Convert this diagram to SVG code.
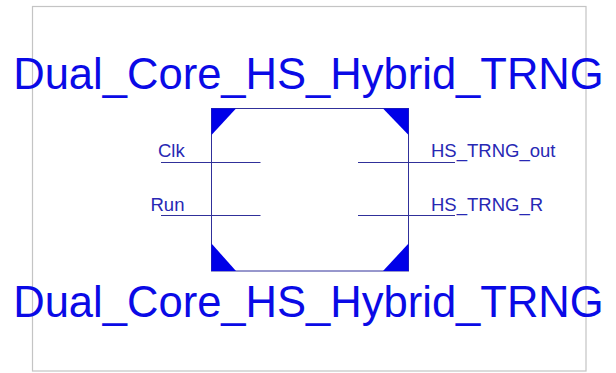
<svg xmlns="http://www.w3.org/2000/svg" width="616" height="373" viewBox="0 0 616 373">
<style>
.title{font-family:"Liberation Sans",Arial,sans-serif;font-size:45px;fill:#0a0ae6}
.pin{font-family:"Liberation Sans",Arial,sans-serif;font-size:18.5px;fill:#2828b4}
.wire{stroke:#30309a;stroke-width:1;fill:none}
.tri{fill:#0000e8}
</style>
<rect width="616" height="373" fill="#ffffff"/>
<rect x="32.5" y="6.5" width="553.5" height="364.5" fill="none" stroke="#c4c4c4" stroke-width="1.2"/>
<g id="block">
<rect x="211.5" y="108.5" width="197" height="162.5" fill="#ffffff" stroke="#30309a" stroke-width="1"/>
<polygon class="tri" points="211.5,108.5 236,108.5 211.5,135"/>
<polygon class="tri" points="383,108.5 408.5,108.5 408.5,135"/>
<polygon class="tri" points="211.5,243.5 211.5,271 236,271"/>
<polygon class="tri" points="383,271 408.5,271 408.5,243.5"/>
</g>
<g id="title_top"><text class="title" x="13.2" y="89.3" textLength="590.5" lengthAdjust="spacingAndGlyphs">Dual_Core_HS_Hybrid_TRNG</text></g>
<g id="title_bottom"><text class="title" x="13.2" y="316.7" textLength="590.5" lengthAdjust="spacingAndGlyphs">Dual_Core_HS_Hybrid_TRNG</text></g>
<g id="connectors">
<line class="wire" x1="161" y1="162.5" x2="260.5" y2="162.5"/>
<line class="wire" x1="161" y1="215.5" x2="260.5" y2="215.5"/>
<line class="wire" x1="358" y1="162.5" x2="455" y2="162.5"/>
<line class="wire" x1="358" y1="215.5" x2="455" y2="215.5"/>
</g>
<g id="pin_clk"><text class="pin" x="158" y="157">Clk</text></g>
<g id="pin_run"><text class="pin" x="150.5" y="211">Run</text></g>
<g id="pin_out"><text class="pin" x="431" y="157">HS_TRNG_out</text></g>
<g id="pin_r"><text class="pin" x="431" y="211">HS_TRNG_R</text></g>
</svg>
